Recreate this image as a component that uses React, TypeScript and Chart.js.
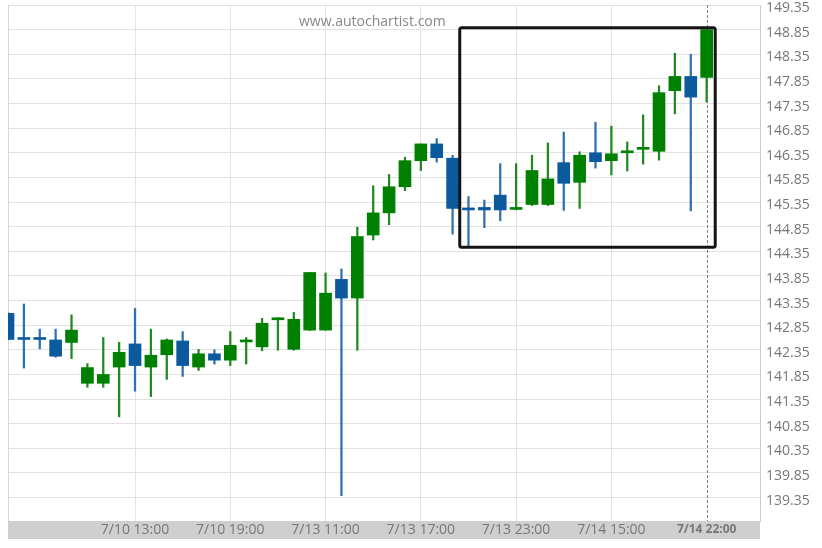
import React, { useEffect, useRef } from "react";
import { Chart, registerables } from "chart.js";

Chart.register(...registerables);

// Candle data (hourly USD/JPY-like), index 0..44
const opens = [
  143.09, 142.58, 142.58, 142.55, 142.5, 141.67, 141.67, 142.0, 142.47, 142.0,
  142.25, 142.53, 142.0, 142.27, 142.14, 142.51, 142.41, 142.96, 142.36, 142.75,
  142.75, 143.78, 143.4, 144.68, 145.13, 145.66, 146.19, 146.53, 146.24, 145.21,
  145.24, 145.49, 145.2, 145.3, 145.3, 146.15, 145.75, 146.35, 146.19, 146.35,
  146.42, 146.38, 147.61, 147.9, 147.88,
];
const highs = [
  143.1, 143.28, 142.77, 142.77, 143.06, 142.07, 142.6, 142.5, 143.19, 142.77,
  142.57, 142.72, 142.36, 142.35, 142.72, 142.6, 142.99, 143.0, 143.11, 143.92,
  143.91, 143.99, 144.84, 145.68, 145.91, 146.26, 146.53, 146.64, 146.3, 145.46,
  145.39, 146.13, 146.13, 146.3, 146.55, 146.77, 146.37, 146.97, 146.89, 146.57,
  147.12, 147.71, 148.37, 148.35, 148.85,
];
const lows = [
  142.55, 141.98, 142.37, 142.2, 142.17, 141.59, 141.59, 140.99, 141.51, 141.4,
  141.75, 141.81, 141.93, 142.06, 142.03, 142.06, 142.33, 142.34, 142.34, 142.74,
  142.75, 139.39, 142.34, 144.58, 144.89, 145.58, 145.99, 146.16, 144.7, 144.46,
  144.83, 144.97, 145.19, 145.28, 145.28, 145.18, 145.22, 146.04, 145.9, 145.98,
  146.12, 146.2, 147.14, 145.17, 147.38,
];
const closes = [
  142.56, 142.56, 142.56, 142.22, 142.75, 141.99, 141.85, 142.3, 142.03, 142.24,
  142.55, 142.03, 142.27, 142.14, 142.44, 142.53, 142.89, 142.99, 142.97, 143.92,
  143.5, 143.4, 144.65, 145.13, 145.66, 146.19, 146.53, 146.25, 145.22, 145.19,
  145.19, 145.19, 145.24, 145.99, 145.82, 145.73, 146.3, 146.17, 146.33, 146.38,
  146.44, 147.57, 147.9, 147.48, 148.85,
];

// X tick positions (candle index) and labels
const xTickIndex = [8, 14, 20, 26, 32, 38, 44];
const xTickLabels = [
  "7/10 13:00",
  "7/10 19:00",
  "7/13 11:00",
  "7/13 17:00",
  "7/13 23:00",
  "7/14 15:00",
  "7/14 22:00",
];
const yTicks = [
  139.35, 139.85, 140.35, 140.85, 141.35, 141.85, 142.35, 142.85, 143.35, 143.85,
  144.35, 144.85, 145.35, 145.85, 146.35, 146.85, 147.35, 147.85, 148.35, 148.85,
  149.35,
];
// Highlight box: [startIndex, endIndex, low, high]
const boxRange = [28.45, 44.54, 144.43, 148.89];
const currentIndex = 44;

const GREEN = "#008000";
const BLUE = "#0b5a9e";
const GREEN_WICK = "#1f8a1f";
const BLUE_WICK = "#2f70b0";
const FONT = "'Open Sans', 'Noto Sans', sans-serif";

export default function App() {
  const canvasRef = useRef<HTMLCanvasElement | null>(null);

  useEffect(() => {
    const canvas = canvasRef.current;
    if (!canvas) return;
    const up = opens.map((o, i) => closes[i] >= o);

    const bgPlugin = {
      id: "bgPlugin",
      beforeDraw(chart: any) {
        const { ctx, chartArea } = chart;
        const xs = chart.scales.x;
        ctx.save();
        ctx.fillStyle = "#cfcfcf";
        ctx.fillRect(chartArea.left, xs.top, chartArea.right - chartArea.left, xs.bottom - xs.top);
        ctx.restore();
      },
      beforeDatasetsDraw(chart: any) {
        const { ctx, chartArea } = chart;
        const xs = chart.scales.x;
        ctx.save();
        ctx.strokeStyle = "#d6d6d6";
        ctx.lineWidth = 1;
        ctx.beginPath();
        ctx.moveTo(chartArea.left + 0.5, chartArea.top);
        ctx.lineTo(chartArea.left + 0.5, chartArea.bottom);
        ctx.stroke();
        const px = Math.round(xs.getPixelForValue(currentIndex)) + 0.5;
        ctx.strokeStyle = "#808080";
        ctx.setLineDash([3, 2]);
        ctx.beginPath();
        ctx.moveTo(px, chartArea.top);
        ctx.lineTo(px, chartArea.bottom);
        ctx.stroke();
        ctx.restore();
      },
      afterDatasetsDraw(chart: any) {
        const { ctx } = chart;
        const xs = chart.scales.x;
        const ys = chart.scales.y;
        const x1 = xs.getPixelForValue(boxRange[0]);
        const x2 = xs.getPixelForValue(boxRange[1]);
        const y1 = ys.getPixelForValue(boxRange[3]);
        const y2 = ys.getPixelForValue(boxRange[2]);
        ctx.save();
        ctx.strokeStyle = "#141414";
        ctx.lineWidth = 3;
        ctx.beginPath();
        if ((ctx as any).roundRect) {
          (ctx as any).roundRect(x1, y1, x2 - x1, y2 - y1, 2);
        } else {
          ctx.rect(x1, y1, x2 - x1, y2 - y1);
        }
        ctx.stroke();
        ctx.restore();
      },
    };

    const chart = new Chart(canvas, {
      type: "bar",
      data: {
        datasets: [
          {
            label: "body",
            order: 0,
            data: opens.map((o, i) => ({ x: i, y: [o, closes[i]] })) as any,
            backgroundColor: up.map((u) => (u ? GREEN : BLUE)),
            borderWidth: 0,
            barThickness: 12,
            minBarLength: 2,
            grouped: false,
          } as any,
          {
            label: "wick",
            order: 1,
            data: lows.map((l, i) => ({ x: i, y: [l, highs[i]] })) as any,
            backgroundColor: up.map((u) => (u ? GREEN_WICK : BLUE_WICK)),
            borderWidth: 0,
            barThickness: 1.6,
            grouped: false,
          } as any,
        ],
      },
      options: {
        responsive: false,
        animation: false,
        devicePixelRatio: 1,
        layout: { padding: { left: 8, top: 5, right: 0, bottom: 9 } },
        plugins: {
          legend: { display: false },
          tooltip: { enabled: false },
          title: { display: false },
        },
        scales: {
          x: {
            type: "linear",
            min: 0,
            max: 47.36,
            offset: false,
            afterBuildTicks: (scale: any) => {
              scale.ticks = xTickIndex.map((v) => ({ value: v }));
            },
            afterFit: (scale: any) => {
              scale.height = 18;
              scale.paddingLeft = 0;
              scale.paddingRight = 0;
            },
            grid: {
              offset: false,
              drawTicks: false,
              color: (ctx: any) =>
                ctx.tick && ctx.tick.value === currentIndex ? "rgba(0,0,0,0)" : "#e2e2e2",
              lineWidth: 1,
            },
            border: { display: false },
            ticks: {
              autoSkip: false,
              maxRotation: 0,
              padding: 1,
              color: "#777777",
              font: (ctx: any) =>
                ctx.tick && ctx.tick.value === currentIndex
                  ? { family: FONT, size: 12, weight: "bold" }
                  : { family: FONT, size: 14 },
              callback: (value: any) => {
                const k = xTickIndex.indexOf(Number(value));
                return k >= 0 ? xTickLabels[k] : "";
              },
            },
          } as any,
          y: {
            type: "linear",
            position: "right",
            min: 138.875,
            max: 149.35,
            afterBuildTicks: (scale: any) => {
              scale.ticks = yTicks.map((v) => ({ value: v }));
            },
            afterFit: (scale: any) => {
              scale.width = 62;
              scale.paddingTop = 0;
              scale.paddingBottom = 0;
            },
            grid: { drawTicks: false, color: "#e2e2e2", lineWidth: 1 },
            border: { display: true, color: "#cccccc", width: 1 },
            ticks: {
              padding: 6,
              labelOffset: 3,
              color: "#777777",
              font: { family: FONT, size: 14 },
              callback: (value: any) => Number(value).toFixed(2),
            },
          } as any,
        },
      },
      plugins: [bgPlugin],
    });

    return () => chart.destroy();
  }, []);

  return (
    <div
      style={{
        position: "absolute",
        left: 0,
        top: 0,
        width: 822,
        height: 548,
        background: "#ffffff",
      }}
    >
      <canvas ref={canvasRef} width={822} height={548} style={{ display: "block" }} />
      <div
        style={{
          position: "absolute",
          left: 299,
          top: 13,
          fontFamily: FONT,
          fontSize: 14,
          lineHeight: "16px",
          color: "#888888",
          whiteSpace: "nowrap",
        }}
      >
        www.autochartist.com
      </div>
    </div>
  );
}
